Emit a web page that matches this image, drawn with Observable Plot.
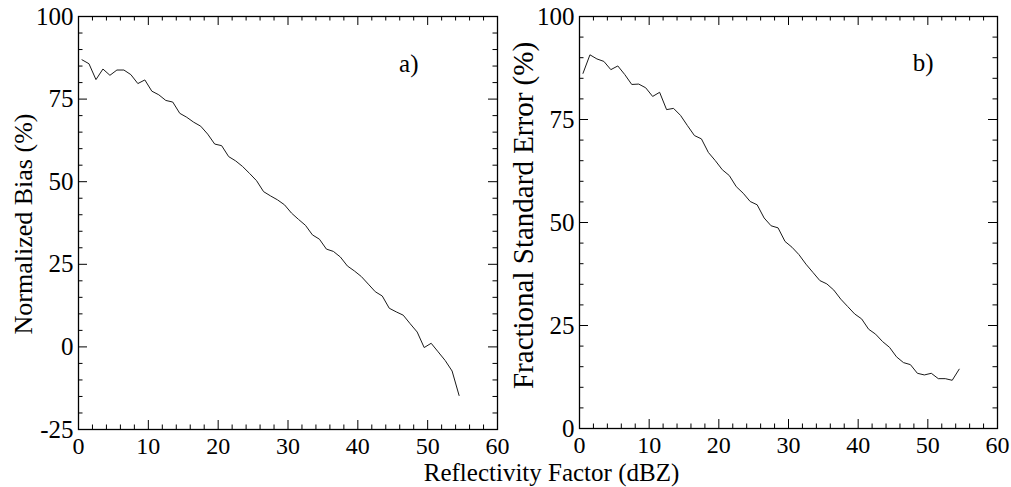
<!DOCTYPE html>
<html>
<head>
<meta charset="utf-8">
<script src="https://cdn.jsdelivr.net/npm/d3@7"></script>
<script src="https://cdn.jsdelivr.net/npm/@observablehq/plot@0.6"></script>
<style>
  html, body { margin: 0; padding: 0; background: #fff; }
  #wrap { position: relative; width: 1011px; height: 487px; overflow: hidden; font-family: "Liberation Serif", "Times New Roman", serif; }
  .panel { position: absolute; top: 0; }
  #xtitle { position: absolute; left: 0; width: 1103px; top: 460px; text-align: center; font-family: "Liberation Serif", serif; font-size: 25px; line-height: 25px; color: #000; white-space: nowrap; }
</style>
</head>
<body>
<div id="wrap"><div id="xtitle">Reflectivity Factor (dBZ)</div></div>
<script>
// Reflectivity factor (dBZ) at which each value is plotted
const dBZ = [0.5, 1.5, 2.5, 3.5, 4.5, 5.5, 6.5, 7.5, 8.5, 9.5,
  10.5, 11.5, 12.5, 13.5, 14.5, 15.5, 16.5, 17.5, 18.5, 19.5,
  20.5, 21.5, 22.5, 23.5, 24.5, 25.5, 26.5, 27.5, 28.5, 29.5,
  30.5, 31.5, 32.5, 33.5, 34.5, 35.5, 36.5, 37.5, 38.5, 39.5,
  40.5, 41.5, 42.5, 43.5, 44.5, 45.5, 46.5, 47.5, 48.5, 49.5,
  50.5, 51.5, 52.5, 53.5, 54.5];

// a) Normalized Bias (%)
const normalizedBias = [86.9, 85.7, 80.9, 84.1, 82.2, 83.8, 83.8, 82.4, 79.7, 80.8,
  77.4, 76.3, 74.6, 74.1, 70.7, 69.5, 68.0, 66.8, 64.4, 61.4,
  60.9, 57.6, 56.3, 54.6, 52.5, 50.3, 47.0, 45.7, 44.5, 43.0,
  40.5, 38.6, 36.8, 33.9, 32.6, 29.6, 28.9, 27.2, 24.5, 23.0,
  21.3, 19.0, 16.7, 15.4, 11.7, 10.6, 9.6, 7.0, 4.5, -0.2,
  1.1, -1.5, -4.1, -7.3, -14.7];

// b) Fractional Standard Error (%)
const fractionalStdError = [86.2, 90.7, 89.7, 89.1, 87.1, 88.0, 85.9, 83.5, 83.6, 82.7,
  80.6, 81.6, 77.4, 77.7, 76.0, 73.5, 71.1, 70.3, 67.0, 65.0,
  62.8, 61.4, 58.7, 57.1, 55.1, 54.3, 51.1, 49.2, 48.7, 45.4,
  44.0, 42.2, 39.9, 37.9, 35.9, 35.1, 33.6, 31.4, 29.6, 27.8,
  26.6, 24.1, 22.9, 21.1, 19.7, 17.4, 16.0, 15.5, 13.4, 13.0,
  13.4, 12.1, 12.1, 11.7, 14.4];

const xTicks = [0, 10, 20, 30, 40, 50, 60];
const xMinorTicks = [2, 4, 6, 8, 12, 14, 16, 18, 22, 24, 26, 28, 32, 34, 36, 38, 42, 44, 46, 48, 52, 54, 56, 58];
const yTicksA = [-25, 0, 25, 50, 75, 100];
const yMinorA = [-20, -15, -10, -5, 5, 10, 15, 20, 30, 35, 40, 45, 55, 60, 65, 70, 80, 85, 90, 95];
const yTicksB = [0, 25, 50, 75, 100];
const yMinorB = [5, 10, 15, 20, 30, 35, 40, 45, 55, 60, 65, 70, 80, 85, 90, 95];

const FONT = '"Liberation Serif", "Times New Roman", serif';

function panel(o) {
  const data = dBZ.map((x, i) => ({x, y: o.values[i]}));
  const H = 487, mTop = 16;
  const FH = H - mTop - o.mBottom;           // frame height in px
  const FW = o.width - o.mLeft - o.mRight;   // frame width in px
  const MAJ = 9, MIN = 4.5;
  return Plot.plot({
    width: o.width, height: H,
    marginLeft: o.mLeft, marginRight: o.mRight, marginTop: mTop, marginBottom: o.mBottom,
    style: {fontFamily: FONT, background: "transparent", overflow: "visible", color: "black"},
    x: {domain: [0, 60], axis: null},
    y: {domain: o.yDomain, axis: null},
    marks: [
      // inward ticks on all four sides
      Plot.tickX(xMinorTicks, {x: d => d, insetTop: FH - MIN, stroke: "black"}),
      Plot.tickX(xMinorTicks, {x: d => d, insetBottom: FH - MIN, stroke: "black"}),
      Plot.tickX(xTicks, {x: d => d, insetTop: FH - MAJ, stroke: "black"}),
      Plot.tickX(xTicks, {x: d => d, insetBottom: FH - MAJ, stroke: "black"}),
      Plot.tickY(o.yMinor, {y: d => d, insetRight: FW - MIN, stroke: "black"}),
      Plot.tickY(o.yMinor, {y: d => d, insetLeft: FW - MIN, stroke: "black"}),
      Plot.tickY(o.yTicks, {y: d => d, insetRight: FW - MAJ, stroke: "black"}),
      Plot.tickY(o.yTicks, {y: d => d, insetLeft: FW - MAJ, stroke: "black"}),
      // tick labels
      Plot.axisX({anchor: "bottom", ticks: xTicks, tickSize: 0, tickPadding: 7, fontSize: 24, fontFamily: FONT, label: null, tickFormat: d => String(d)}),
      Plot.axisY({anchor: "left", ticks: o.yTicks, tickSize: 0, tickPadding: 5, fontSize: 25, fontFamily: FONT, label: null, tickFormat: d => String(d)}),
      Plot.frame({stroke: "black", strokeWidth: 1.3}),
      Plot.line(data, {x: "x", y: "y", stroke: "#1a1a1a", strokeWidth: 1}),
      Plot.text([o.yLabel], {text: d => d, frameAnchor: "left", rotate: -90, dx: -o.labelOffset, dy: o.labelDy, lineAnchor: "top", textAnchor: "middle", fontSize: o.labelSize, fontFamily: FONT}),
      Plot.text([o.tag], {text: d => d, frameAnchor: "top-right", textAnchor: "end", lineAnchor: "middle", dx: o.tagDx, dy: o.tagDy, fontSize: 25, fontFamily: FONT})
    ]
  });
}

const wrap = document.getElementById("wrap");

const left = panel({
  values: normalizedBias, yDomain: [-25, 100], yTicks: yTicksA, yMinor: yMinorA,
  yLabel: "Normalized Bias (%)", labelSize: 26, labelOffset: 65, labelDy: 1, tag: "a)", tagDx: -79, tagDy: 47,
  width: 505, mLeft: 78, mRight: 8, mBottom: 58
});
left.classList.add("panel");
left.style.left = "0px";
wrap.appendChild(left);

const right = panel({
  values: fractionalStdError, yDomain: [0, 100], yTicks: yTicksB, yMinor: yMinorB,
  yLabel: "Fractional Standard Error (%)", labelSize: 29, labelOffset: 67, labelDy: -7, tag: "b)", tagDx: -64, tagDy: 46,
  width: 506, mLeft: 74, mRight: 14, mBottom: 59
});
right.classList.add("panel");
right.style.left = "505px";
wrap.appendChild(right);
</script>
</body>
</html>
